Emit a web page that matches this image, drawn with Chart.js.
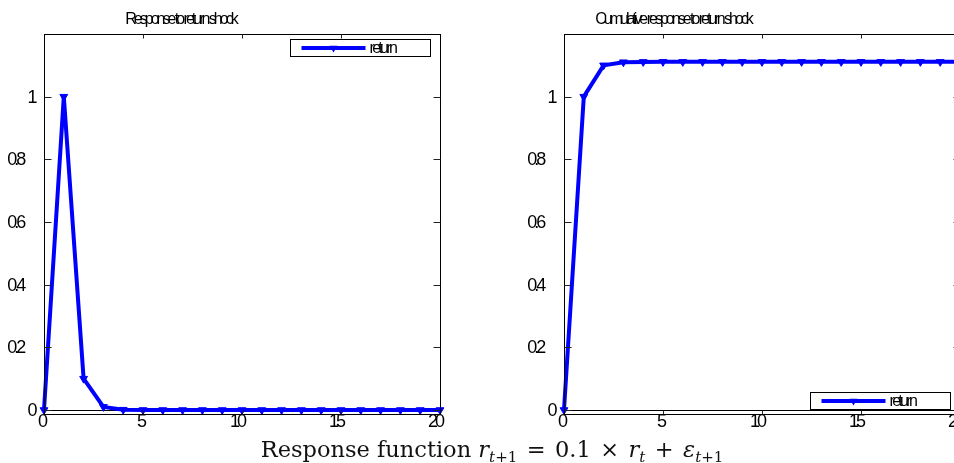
<!DOCTYPE html>
<html>
<head>
<meta charset="utf-8">
<script src="https://cdn.jsdelivr.net/npm/chart.js@4.4.1/dist/chart.umd.min.js"></script>
<style>
  html, body { margin: 0; padding: 0; background: #fff; width: 954px; height: 463px; overflow: hidden; position: relative; }
  canvas { position: absolute; top: 0; }
  #irf-left { left: 0; }
  #irf-right { left: 520px; }
  #caption {
    position: absolute; left: 0; top: 437px; width: 984px;
    text-align: center; font-family: "DejaVu Serif", serif; font-size: 22.5px; line-height: 24px; color: #111;
    white-space: nowrap;
  }
  #caption .sub { font-size: 15px; vertical-align: -5px; line-height: 0; }
  #caption .op { margin: 0 0.42em; }
</style>
</head>
<body>
<canvas id="irf-left" width="477" height="440"></canvas>
<canvas id="irf-right" width="477" height="440"></canvas>
<div id="caption">Response function <i>r</i><span class="sub"><i>t</i>+1</span><span class="op">=</span>0.1<span class="op">×</span><i>r</i><span class="sub"><i>t</i></span><span class="op">+</span><i>ε</i><span class="sub"><i>t</i>+1</span></div>

<script>
// horizon (periods after the shock)
const periods = [0, 1, 2, 3, 4, 5, 6, 7, 8, 9, 10, 11, 12, 13, 14, 15, 16, 17, 18, 19, 20];
// impulse response of r to a unit return shock
const responseValues = [0, 1, 0.1, 0.01, 0.001, 0.0001, 0.00001, 0.000001, 0, 0, 0, 0, 0, 0, 0, 0, 0, 0, 0, 0, 0];
// cumulative response
const cumulativeValues = [0, 1, 1.1, 1.11, 1.111, 1.1111, 1.11111, 1.111111, 1.111111, 1.111111, 1.111111,
  1.111111, 1.111111, 1.111111, 1.111111, 1.111111, 1.111111, 1.111111, 1.111111, 1.111111, 1.111111];

const xTicks = [0, 5, 10, 15, 20];
const yTicks = [0, 0.2, 0.4, 0.6, 0.8, 1];
const yTickLabels = ['0', '0.2', '0.4', '0.6', '0.8', '1'];
const seriesName = 'return';
const titles = ['Response to return shock', 'Cumulative response to return shock'];

const FONT = '"Liberation Sans", Arial, Helvetica, sans-serif';
const BLUE = '#0000ff';

// text drawn squeezed (tight glyph spacing), anchored like the wide original
function squeezed(ctx, text, x, y, size, spacing, k) {
  ctx.save();
  ctx.font = size + 'px ' + FONT;
  const w = ctx.measureText(text).width;
  ctx.letterSpacing = spacing + 'px';
  ctx.textAlign = 'left';
  ctx.fillStyle = '#000';
  ctx.fillText(text, x - w * k, y);
  ctx.restore();
}

function downTriangle(ctx, x, y, r) {
  ctx.beginPath();
  ctx.moveTo(x - r * 0.87, y - r * 0.5);
  ctx.lineTo(x + r * 0.87, y - r * 0.5);
  ctx.lineTo(x, y + r);
  ctx.closePath();
  ctx.fill();
}

// boxed axes, inner ticks, zero line, labels, title and legend
const matlabFrame = {
  id: 'matlabFrame',
  beforeDatasetsDraw(chart) {
    const { ctx, chartArea: a, scales: { y } } = chart;
    const y0 = Math.round(y.getPixelForValue(0)) + 0.5;
    ctx.save();
    ctx.strokeStyle = '#000';
    ctx.lineWidth = 1;
    ctx.beginPath();
    ctx.moveTo(a.left, y0);
    ctx.lineTo(a.right, y0);
    ctx.stroke();
    ctx.restore();
  },
  afterDraw(chart, args, opts) {
    const { ctx, chartArea: a, scales: { x, y } } = chart;
    const L = Math.round(a.left) + 0.5, R = Math.round(a.right) + 0.5;
    const T = Math.round(a.top) + 0.5, B = Math.round(a.bottom) + 0.5;
    ctx.save();
    ctx.strokeStyle = '#000';
    ctx.lineWidth = 1;
    ctx.strokeRect(L, T, R - L, B - T);

    ctx.strokeStyle = '#222';
    ctx.beginPath();
    yTicks.forEach(v => {
      const py = Math.round(y.getPixelForValue(v)) + 0.5;
      ctx.moveTo(L, py); ctx.lineTo(L + 7, py);
      ctx.moveTo(R, py); ctx.lineTo(R - 7, py);
    });
    xTicks.slice(1, -1).forEach(v => {
      const px = Math.round(x.getPixelForValue(v)) + 0.5;
      ctx.moveTo(px, T); ctx.lineTo(px, T + 4);
      ctx.moveTo(px, B); ctx.lineTo(px, B - 4);
    });
    ctx.stroke();

    ctx.textBaseline = 'middle';
    yTicks.forEach((v, i) => {
      squeezed(ctx, yTickLabels[i], a.left - 3, y.getPixelForValue(v) + 1, 18, -3, 1.35);
    });
    ctx.textBaseline = 'alphabetic';
    xTicks.forEach(v => {
      squeezed(ctx, String(v), x.getPixelForValue(v), a.bottom + 13, 18, -3, 0.6);
    });

    squeezed(ctx, opts.title, (a.left + a.right) / 2, 24, 16, -3, 0.64);

    // legend box
    const ds = chart.data.datasets[0];
    const bw = 140, bh = 17;
    const bx = Math.round(a.right - bw - 10) + 0.5;
    const by = opts.legendAt === 'top' ? Math.round(a.top + 5) + 0.5 : Math.round(a.bottom - 5 - bh) + 0.5;
    ctx.fillStyle = '#fff';
    ctx.fillRect(bx, by, bw, bh);
    ctx.strokeStyle = '#000';
    ctx.lineWidth = 1;
    ctx.strokeRect(bx, by, bw, bh);
    const ly = by + bh / 2;
    ctx.strokeStyle = ds.borderColor;
    ctx.lineWidth = 4;
    ctx.beginPath();
    ctx.moveTo(bx + 11, ly);
    ctx.lineTo(bx + 75, ly);
    ctx.stroke();
    ctx.fillStyle = ds.borderColor;
    downTriangle(ctx, bx + 43, ly, 4.5);
    ctx.textBaseline = 'alphabetic';
    squeezed(ctx, ds.label, bx + 79, by + 13, 16, -2.7, 0);
    ctx.restore();
  }
};

function buildChart(canvasId, values, title, legendAt) {
  return new Chart(document.getElementById(canvasId), {
    type: 'line',
    data: {
      datasets: [{
        label: seriesName,
        data: periods.map((p, i) => ({ x: p, y: values[i] })),
        borderColor: BLUE,
        backgroundColor: BLUE,
        borderWidth: 4,
        pointStyle: 'triangle',
        pointRotation: 180,
        pointRadius: 4.5,
        pointHoverRadius: 4.5,
        pointBorderWidth: 1,
        tension: 0,
        clip: false
      }]
    },
    options: {
      responsive: false,
      animation: false,
      events: [],
      layout: { padding: { top: 34, right: 37, left: 0, bottom: 0 } },
      plugins: {
        legend: { display: false },
        tooltip: { enabled: false },
        title: { display: false },
        matlabFrame: { title, legendAt }
      },
      scales: {
        x: {
          type: 'linear', min: 0, max: 20,
          grid: { display: false }, border: { display: false }, ticks: { display: false },
          afterFit(s) { s.height = 26; }
        },
        y: {
          type: 'linear', min: -0.0128, max: 1.2,
          grid: { display: false }, border: { display: false }, ticks: { display: false },
          afterFit(s) { s.width = 44; }
        }
      }
    },
    plugins: [matlabFrame]
  });
}

buildChart('irf-left', responseValues, titles[0], 'top');
buildChart('irf-right', cumulativeValues, titles[1], 'bottom');
</script>
</body>
</html>
